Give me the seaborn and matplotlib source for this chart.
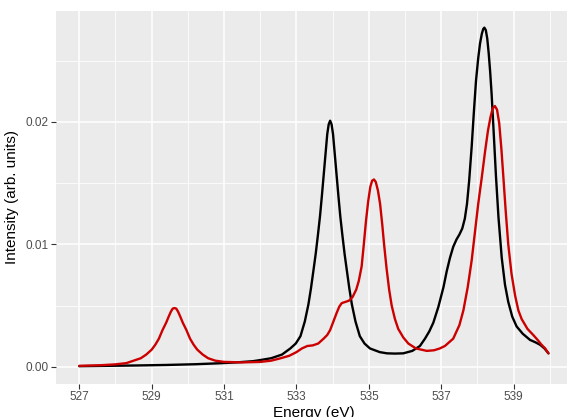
import matplotlib
matplotlib.use("Agg")
import matplotlib.pyplot as plt
import seaborn as sns

# ── Data ─────────────────────────────────────────────────
black_energy = [527.0, 527.8, 528.6, 529.4, 530.2, 530.8, 531.35, 531.8, 532.0,
                532.3, 532.6, 532.83, 532.98, 533.11, 533.23, 533.33, 533.40,
                533.47, 533.53, 533.59, 533.65, 533.70, 533.75, 533.80, 533.85,
                533.89, 533.93, 533.97, 534.01, 534.06, 534.11, 534.16, 534.21,
                534.27, 534.33, 534.39, 534.46, 534.53, 534.63, 534.75, 534.88,
                535.03, 535.30, 535.50, 535.72, 535.95, 536.20, 536.41, 536.55,
                536.67, 536.78, 536.92, 537.06, 537.15, 537.24, 537.33, 537.42,
                537.50, 537.58, 537.65, 537.71, 537.77, 537.84, 537.90, 537.96,
                538.02, 538.07, 538.12, 538.16, 538.19, 538.23, 538.27, 538.31,
                538.35, 538.39, 538.45, 538.51, 538.58, 538.67, 538.76, 538.85,
                538.96, 539.08, 539.25, 539.45, 539.60, 539.73, 539.85, 539.96]
black_intensity = [0.00005, 0.00008, 0.00011, 0.00015, 0.00021, 0.00028, 0.00036,
                   0.00046, 0.00055, 0.0007, 0.0010, 0.0015, 0.0019, 0.0025,
                   0.0037, 0.0051, 0.0064, 0.0079, 0.0092, 0.0107, 0.0123, 0.0139,
                   0.0156, 0.0173, 0.0190, 0.0198, 0.0201, 0.0198, 0.0190, 0.0173,
                   0.0156, 0.0139, 0.0123, 0.0107, 0.0092, 0.0079, 0.0064, 0.0051,
                   0.0037, 0.0025, 0.0019, 0.0015, 0.0012, 0.0011, 0.00108, 0.0011,
                   0.0013, 0.0017, 0.0023, 0.0029, 0.0036, 0.0049, 0.0065, 0.0078,
                   0.0089, 0.0098, 0.0104, 0.0108, 0.0113, 0.0121, 0.0133, 0.0152,
                   0.0180, 0.0208, 0.0234, 0.0252, 0.0264, 0.0272, 0.0276, 0.0277,
                   0.0275, 0.0268, 0.0256, 0.0241, 0.0223, 0.0190, 0.0156, 0.0122,
                   0.0089, 0.0067, 0.0053, 0.0041, 0.0033, 0.0027, 0.0022, 0.0020,
                   0.0018, 0.0015, 0.0011]

red_energy = [527.0, 527.6, 528.0, 528.3, 528.5, 528.7, 528.85, 529.0, 529.1,
              529.2, 529.3, 529.4, 529.47, 529.53, 529.58, 529.63, 529.68, 529.73,
              529.79, 529.86, 529.96, 530.06, 530.16, 530.26, 530.41, 530.56,
              530.76, 531.0, 531.5, 532.0, 532.3, 532.54, 532.8, 533.0, 533.15,
              533.3, 533.45, 533.6, 533.75, 533.85, 533.93, 534.02, 534.11,
              534.18, 534.25, 534.35, 534.45, 534.55, 534.65, 534.72, 534.80,
              534.86, 534.92, 534.98, 535.04, 535.09, 535.14, 535.19, 535.25,
              535.31, 535.37, 535.42, 535.49, 535.56, 535.63, 535.72, 535.81,
              535.95, 536.09, 536.30, 536.60, 536.80, 536.96, 537.10, 537.33,
              537.50, 537.61, 537.73, 537.84, 537.93, 538.02, 538.12, 538.21,
              538.29, 538.36, 538.42, 538.48, 538.54, 538.60, 538.66, 538.71,
              538.78, 538.85, 538.94, 539.04, 539.13, 539.22, 539.38, 539.54,
              539.66, 539.77, 539.87, 539.96]
red_intensity = [0.00008, 0.00013, 0.0002, 0.0003, 0.0005, 0.0007, 0.0010, 0.0014,
                 0.0018, 0.0023, 0.0030, 0.0036, 0.0041, 0.0045, 0.00475, 0.0048,
                 0.00475, 0.0045, 0.0041, 0.0036, 0.0030, 0.0023, 0.0018, 0.0014,
                 0.0010, 0.0007, 0.0005, 0.0004, 0.00036, 0.0004, 0.0005, 0.00068,
                 0.0009, 0.0012, 0.0015, 0.0017, 0.00175, 0.0019, 0.0023, 0.0026,
                 0.0030, 0.0037, 0.0044, 0.0049, 0.0052, 0.0053, 0.0054, 0.0057,
                 0.0063, 0.0070, 0.0082, 0.0100, 0.0119, 0.0135, 0.0147, 0.0152,
                 0.0153, 0.0151, 0.0144, 0.0133, 0.0116, 0.0100, 0.0080, 0.0063,
                 0.0050, 0.0039, 0.0031, 0.0024, 0.0019, 0.0015, 0.0013, 0.00135,
                 0.0015, 0.0017, 0.0023, 0.0034, 0.0046, 0.0065, 0.0087, 0.0110,
                 0.0133, 0.0155, 0.0176, 0.0193, 0.0204, 0.0211, 0.0213, 0.0210,
                 0.0199, 0.0178, 0.0157, 0.0127, 0.0100, 0.0076, 0.0058, 0.0046,
                 0.0039, 0.0031, 0.0026, 0.0022, 0.0018, 0.0015, 0.0011]

x_ticks = [527, 529, 531, 533, 535, 537, 539]
x_minor = [528, 530, 532, 534, 536, 538, 540]
y_ticks = [0.00, 0.01, 0.02]
y_tick_labels = ["0.00", "0.01", "0.02"]
y_minor = [0.005, 0.015, 0.025]

# ── ggplot-like look ─────────────────────────────────────
sns.set_theme(style="darkgrid", rc={"axes.facecolor": "#EBEBEB",
                                    "grid.color": "white"})
plt.rcParams["font.family"] = ["Liberation Sans", "DejaVu Sans"]

fig = plt.figure(figsize=(5.67, 4.17), dpi=100)
W, H = 567, 417
left, right, top, bottom = 55.8, 571.9, 11, 383.7
ax = fig.add_axes([left / W, 1 - bottom / H, (right - left) / W, (bottom - top) / H])

sns.lineplot(x=black_energy, y=black_intensity, color="black", lw=1.7,
             sort=False, solid_joinstyle="round", ax=ax)
sns.lineplot(x=red_energy, y=red_intensity, color="#CC0000", lw=1.7,
             sort=False, solid_joinstyle="round", ax=ax)

ax.set_xlim(526.352, 540.608)
ax.set_ylim(-0.00138, 0.02906)

ax.set_xticks(x_ticks)
ax.set_xticks(x_minor, minor=True)
ax.set_yticks(y_ticks)
ax.set_yticklabels(y_tick_labels)
ax.set_yticks(y_minor, minor=True)
ax.grid(which="major", color="white", lw=1.1)
ax.grid(which="minor", color="white", lw=0.55)
ax.tick_params(which="major", length=3.5, width=0.8, color="#333333",
               labelcolor="#4D4D4D", labelsize=8.5, pad=2, bottom=True, left=True)
ax.tick_params(which="minor", length=0)
for s in ax.spines.values():
    s.set_visible(False)

ax.set_xlabel("Energy (eV)", fontsize=11, color="black", labelpad=2)
ax.set_ylabel("Intensity (arb. units)", fontsize=11, color="black", labelpad=4)

fig.savefig("out.png", dpi=100)
